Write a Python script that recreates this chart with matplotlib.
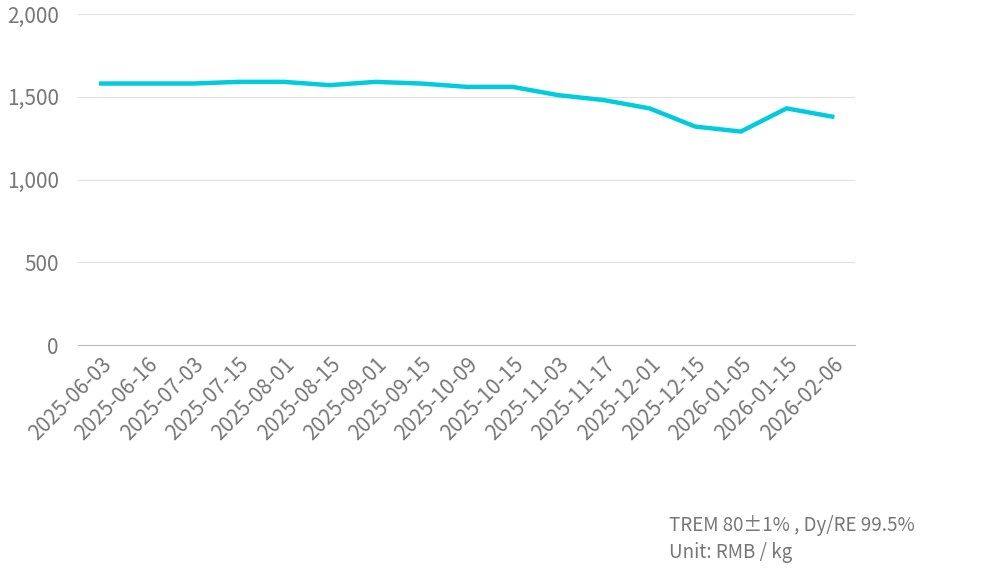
import matplotlib
matplotlib.use('Agg')
import matplotlib.pyplot as plt

dates = ['2025-06-03', '2025-06-16', '2025-07-03', '2025-07-15', '2025-08-01', '2025-08-15',
         '2025-09-01', '2025-09-15', '2025-10-09', '2025-10-15', '2025-11-03', '2025-11-17',
         '2025-12-01', '2025-12-15', '2026-01-05', '2026-01-15', '2026-02-06']
prices = [1580, 1580, 1580, 1590, 1590, 1570, 1590, 1580, 1560, 1560, 1510, 1480,
          1430, 1320, 1290, 1430, 1380]

plt.rcParams['font.family'] = ['Noto Sans CJK SC', 'DejaVu Sans']

fig = plt.figure(figsize=(9.92, 5.83), dpi=100)
ax = fig.add_axes([0.079, 0.408, 0.783, 0.568])

x = list(range(len(dates)))
ax.plot(x, prices, color='#00CCDD', linewidth=3.2, solid_joinstyle='round')

ax.set_xlim(-0.5, len(dates) - 0.5)
ax.set_ylim(0, 2000)
ax.set_yticks([0, 500, 1000, 1500, 2000])
ax.set_yticklabels(['0', '500', '1,000', '1,500', '2,000'])
ax.set_xticks(x)
ax.set_xticklabels(dates, rotation=45, ha='right', rotation_mode='anchor')
ax.tick_params(axis='both', colors='#777777', labelsize=15, length=0)
ax.tick_params(axis='x', pad=6)
ax.tick_params(axis='y', pad=14)

ax.grid(axis='y', color='#e0e0e0', linewidth=0.8)
ax.set_axisbelow(True)
for s in ['top', 'right', 'left']:
    ax.spines[s].set_visible(False)
ax.spines['bottom'].set_color('#bbbbbb')

fig.text(0.674, 0.09, 'TREM 80±1% , Dy/RE 99.5%', color='#777777', fontsize=13.5)
fig.text(0.674, 0.043, 'Unit: RMB / kg', color='#777777', fontsize=13.5)

fig.savefig('out.png', dpi=100)
